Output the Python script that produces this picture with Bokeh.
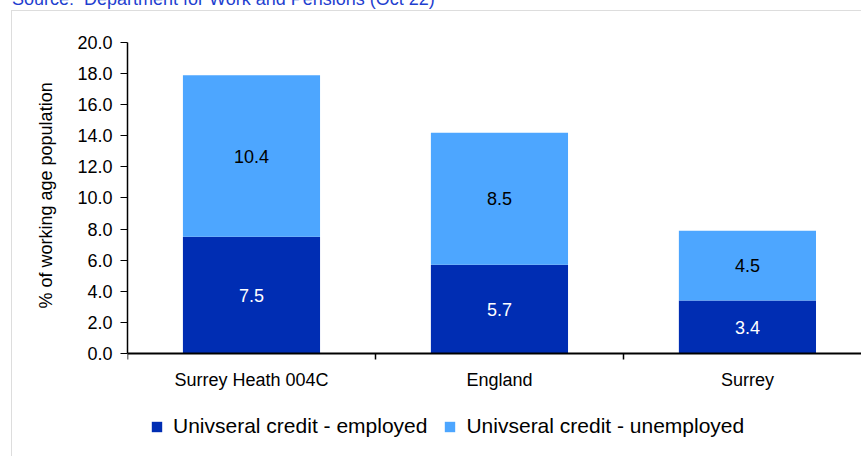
from bokeh.plotting import figure
from bokeh.layouts import column
from bokeh.core.properties import value
from bokeh.models import (Div, Range1d, FixedTicker, NumeralTickFormatter, LabelSet,
                          ColumnDataSource, Legend, LegendItem, Title)
from bokeh.embed import file_html
from bokeh.resources import INLINE

# ---- data ----
categories = ["Surrey Heath 004C", "England", "Surrey"]
employed = [7.5, 5.7, 3.4]
unemployed = [10.4, 8.5, 4.5]
series_names = ["Univseral credit - employed", "Univseral credit - unemployed"]
y_ticks = [0, 2, 4, 6, 8, 10, 12, 14, 16, 18, 20]
y_label = "% of working age population"
source_text = "Source:&nbsp; Department for Work and Pensions (Oct 22)"

DARK = "#002DB3"
LIGHT = "#4DA6FF"
FONT = "Liberation Sans"

xc = [i + 0.5 for i in range(len(categories))]
src = ColumnDataSource(dict(
    x=xc, cat=categories, employed=employed, unemployed=unemployed,
    y_emp=[e / 2 for e in employed],
    y_unemp=[e + u / 2 for e, u in zip(employed, unemployed)],
    t_emp=[f"{e:.1f}" for e in employed],
    t_unemp=[f"{u:.1f}" for u in unemployed],
))

title_div = Div(
    text=source_text, width=840, height=19, margin=(-9, 0, 0, 12),
    styles={"font-family": FONT, "font-size": "18px", "line-height": "16px",
            "color": "#1f3fcf", "white-space": "nowrap"})

p = figure(width=850, height=446, x_range=Range1d(0, 2.964), y_range=Range1d(-6.69, 20),
           output_backend="svg", toolbar_location=None,
           min_border_left=115, min_border_right=0, min_border_top=31, min_border_bottom=0,
           margin=(0, 0, 0, 11),
           styles={"border-top": "1px solid #dddddd", "border-left": "1px solid #dddddd"})
p.outline_line_color = None
p.xgrid.visible = False
p.ygrid.visible = False
p.background_fill_color = "white"
p.border_fill_color = "white"

r = p.vbar_stack(["employed", "unemployed"], x="x", width=0.553, source=src,
                 fill_color=[DARK, LIGHT], line_color=None)

# labels
p.add_layout(LabelSet(x="x", y="y_emp", text="t_emp", source=src, text_align="center",
                      text_baseline="middle", text_color="white", text_font=value(FONT),
                      text_font_size="18px"))
p.add_layout(LabelSet(x="x", y="y_unemp", text="t_unemp", source=src, text_align="center",
                      text_baseline="middle", text_color="black", text_font=value(FONT),
                      text_font_size="18px"))

# y axis
ya = p.yaxis[0]
ya.bounds = (0, 20)
ya.ticker = FixedTicker(ticks=y_ticks, minor_ticks=[])
ya.formatter = NumeralTickFormatter(format="0.0")
ya.major_label_text_font = FONT
ya.major_label_text_font_size = "18px"
ya.major_label_text_color = "black"
ya.major_label_standoff = 8
ya.major_tick_out = 7
ya.major_tick_in = 0
ya.major_tick_line_color = "black"
ya.axis_line_color = "black"
ya.axis_line_width = 1.5

# y axis title (left panel, placed along the 0-20 part of the axis)
p.add_layout(Title(text=y_label, align="left", offset=149, standoff=38,
                   text_font=FONT, text_font_size="18px", text_font_style="normal",
                   text_color="black"), "left")

# x axis (fixed at y = 0 inside the frame)
xa = p.xaxis[0]
xa.fixed_location = 0
xa.ticker = FixedTicker(ticks=xc, minor_ticks=[0, 1, 2, 3])
xa.major_label_overrides = {c: n for c, n in zip(xc, categories)}
xa.major_label_text_font = FONT
xa.major_label_text_font_size = "18px"
xa.major_label_text_color = "black"
xa.major_label_standoff = 11
xa.major_tick_line_color = None
xa.major_tick_out = 0
xa.major_tick_in = 0
xa.minor_tick_line_color = "black"
xa.minor_tick_line_width = 1.5
xa.minor_tick_out = 6
xa.minor_tick_in = 0
xa.axis_line_color = "black"
xa.axis_line_width = 2

legend = Legend(items=[LegendItem(label=series_names[0], renderers=[r[0]]),
                       LegendItem(label=series_names[1], renderers=[r[1]])],
                location=(23, 19), orientation="horizontal",
                glyph_width=13, glyph_height=13, label_standoff=10, spacing=16,
                padding=0, margin=0, border_line_color=None, background_fill_alpha=0,
                label_text_font=FONT, label_text_font_size="21px", label_text_color="black")
p.add_layout(legend)

layout = column(title_div, p)
open("out.html", "w").write(file_html(layout, INLINE))
